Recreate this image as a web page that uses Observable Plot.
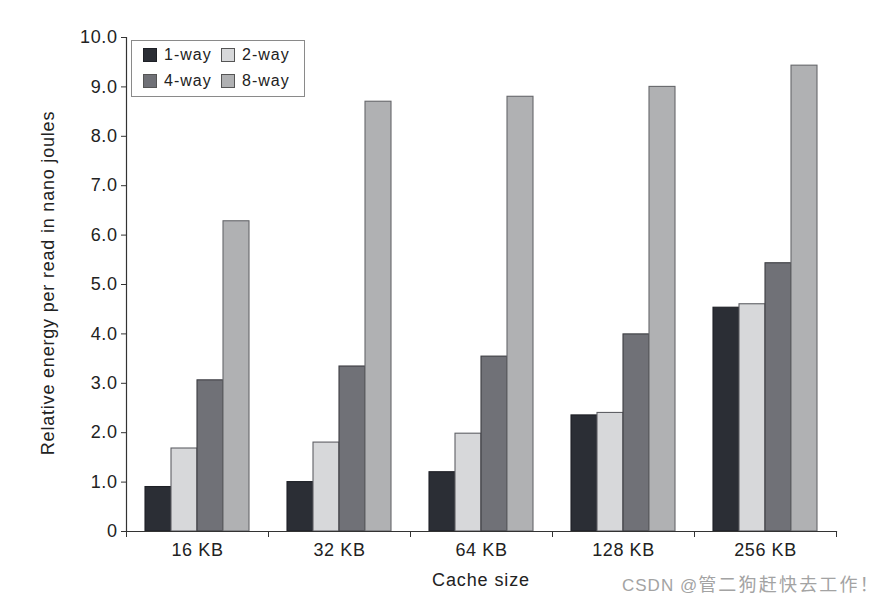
<!DOCTYPE html>
<html>
<head>
<meta charset="utf-8">
<script src="https://cdn.jsdelivr.net/npm/d3@7"></script>
<script src="https://cdn.jsdelivr.net/npm/@observablehq/plot@0.6"></script>
<style>
  html, body { margin: 0; padding: 0; background: #fff; }
  #wrap { position: relative; width: 881px; height: 600px; font-family: "Liberation Sans", Arial, sans-serif; color: #222; }
  #chart { position: absolute; left: 0; top: 0; }
  #chart svg text { font-size: 18px; letter-spacing: 0.6px; fill: #222; }
  .ylab { position: absolute; left: 48px; top: 283px; transform: translate(-50%, -50%) rotate(-90deg); font-size: 18px; letter-spacing: 0.8px; white-space: nowrap; }
  .xlab { position: absolute; left: 481px; top: 580px; transform: translate(-50%, -50%); font-size: 18px; letter-spacing: 0.9px; white-space: nowrap; }
  .legend { position: absolute; left: 131px; top: 40px; width: 172px; height: 55px; border: 1px solid #8a8a8a; background: #fff; font-size: 16px; letter-spacing: 1px; }
  .legend .item { position: absolute; display: flex; align-items: center; }
  .legend .sw { width: 14px; height: 14px; border: 1px solid #444; margin-right: 7px; box-sizing: border-box; }
  .wm { position: absolute; left: 622px; top: 570px; font-size: 17px; letter-spacing: 1px; color: #a3a3a3; font-family: "Liberation Sans", "Noto Sans CJK SC", sans-serif; white-space: nowrap; }
  .wm .cjk { font-family: "Noto Sans CJK SC", sans-serif; font-size: 18px; letter-spacing: 2.2px; }
</style>
</head>
<body>
<div id="wrap">
  <div id="chart"></div>
  <div class="ylab">Relative energy per read in nano joules</div>
  <div class="xlab">Cache size</div>
  <div class="legend" id="legend"></div>
  <div class="wm">CSDN @<span class="cjk">管二狗赶快去工作！</span></div>
</div>
<script>
const cacheSizes = ["16 KB", "32 KB", "64 KB", "128 KB", "256 KB"];
const ways = ["1-way", "2-way", "4-way", "8-way"];
const oneWay   = [0.90, 1.00, 1.20, 2.35, 4.53];
const twoWay   = [1.68, 1.80, 1.98, 2.40, 4.60];
const fourWay  = [3.06, 3.34, 3.54, 3.99, 5.43];
const eightWay = [6.28, 8.70, 8.80, 9.00, 9.43];
const yTicks = [0, 1, 2, 3, 4, 5, 6, 7, 8, 9, 10];

const fills   = ["#2b2e35", "#d7d8da", "#707177", "#b0b1b3"];
const strokes = ["#1e2026", "#5f6065", "#3c3d42", "#66676b"];

const series = [oneWay, twoWay, fourWay, eightWay];
const data = [];
cacheSizes.forEach((c, i) => {
  ways.forEach((w, j) => data.push({size: c, way: w, value: series[j][i]}));
});

const plot = Plot.plot({
  width: 881,
  height: 600,
  marginLeft: 126,
  marginRight: 45,
  marginTop: 37,
  marginBottom: 69,
  style: {fontFamily: "Liberation Sans, Arial, sans-serif", fontSize: "18px", color: "#222", background: "white"},
  fx: {domain: cacheSizes, padding: 0, label: null},
  x: {domain: ways, paddingInner: 0, paddingOuter: 0.73, axis: null},
  y: {domain: [0, 10], axis: null},
  color: {domain: ways, range: fills},
  marks: [
    Plot.barY(data, {
      fx: "size", x: "way", y: "value",
      fill: "way",
      stroke: d => strokes[ways.indexOf(d.way)],
      strokeWidth: 1.1
    }),
    Plot.frame({anchor: "bottom", stroke: "#333", strokeWidth: 1.2}),
    Plot.frame({anchor: "left", facetAnchor: "left", stroke: "#333", strokeWidth: 1.2}),
    Plot.axisY({
      ticks: yTicks,
      tickFormat: d => d === 0 ? "0" : d.toFixed(1),
      tickSize: 5,
      tickPadding: 4,
      label: null,
      stroke: "#333",
      fontSize: 18
    }),
    Plot.axisFx({
      anchor: "bottom",
      tickSize: 0,
      tickPadding: 12,
      label: null,
      fontSize: 18
    }),
    Plot.axisFx({
      anchor: "bottom",
      tickSize: 6,
      tickFormat: () => "",
      dx: -71,
      label: null,
      stroke: "#333"
    }),
    Plot.axisFx({
      anchor: "bottom",
      ticks: [cacheSizes[cacheSizes.length - 1]],
      tickSize: 6,
      tickFormat: () => "",
      dx: 71,
      label: null,
      stroke: "#333"
    })
  ]
});
document.getElementById("chart").appendChild(plot);

// legend
const legend = document.getElementById("legend");
const pos = [[11, 5], [89, 5], [11, 31], [89, 31]];
ways.forEach((w, j) => {
  const it = document.createElement("div");
  it.className = "item";
  it.style.left = pos[j][0] + "px";
  it.style.top = pos[j][1] + "px";
  const sw = document.createElement("div");
  sw.className = "sw";
  sw.style.background = fills[j];
  sw.style.borderColor = j === 0 ? "#1e2026" : "#555";
  const t = document.createElement("span");
  t.textContent = w;
  it.appendChild(sw);
  it.appendChild(t);
  legend.appendChild(it);
});
</script>
</body>
</html>
